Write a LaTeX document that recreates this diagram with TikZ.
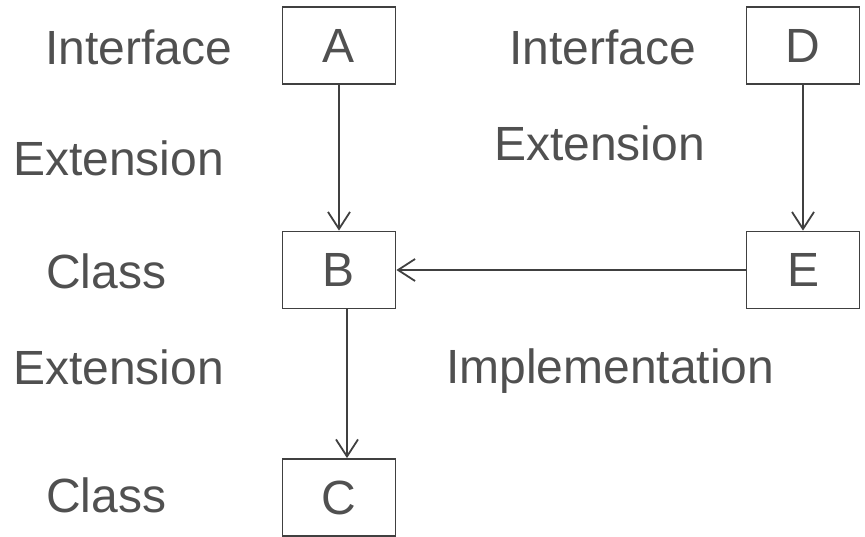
\documentclass[tikz,border=0pt]{standalone}
\usepackage{fontspec}
\setmainfont{Liberation Sans}
\usepackage{tikz}
\usetikzlibrary{arrows.meta, positioning, calc}
\definecolor{linegray}{HTML}{404040}
\definecolor{textgray}{HTML}{505050}

\begin{document}
\begin{tikzpicture}[x=1pt, y=-1pt,
  every node/.style={text=textgray, font=\fontsize{48}{54}\selectfont},
  kind/.style={anchor=base west, inner sep=0pt},
  box/.style={draw=linegray, line width=1.8pt, minimum width=113pt, minimum height=77pt, inner sep=0pt},
  link/.style={draw=linegray, line width=1.8pt, -{Straight Barb[length=17pt, width=22pt, line width=1.8pt]}}]
\useasboundingbox (0,0) rectangle (865,536);

% 左の列：A, B, C
\node[box] (A) at (339,45.5) {A};
\node[box] (B) at (339,270) {B};
\node[box] (C) at (339,497.5) {C};

% 右の列：D, E
\node[box] (D) at (803,45.5) {D};
\node[box] (E) at (803,270) {E};

% 種類のラベル
\node[kind] (lA) at (45,64) {Interface};
\node[kind] (lAB) at (13,175) {Extension};
\node[kind] (lB) at (46,288) {Class};
\node[kind] (lBC) at (13,384) {Extension};
\node[kind] (lC) at (46,512) {Class};
\node[kind] (lD) at (509,64) {Interface};
\node[kind] (lDE) at (494,160) {Extension};
\node[kind] (lEB) at (446,383) {Implementation};

% 矢印
\draw[link] (A) -- (B);
\draw[link] ([xshift=8pt]B.south) -- ([xshift=8pt]C.north);
\draw[link] (D) -- (E);
\draw[link] (E) -- (B);

\end{tikzpicture}
\end{document}
